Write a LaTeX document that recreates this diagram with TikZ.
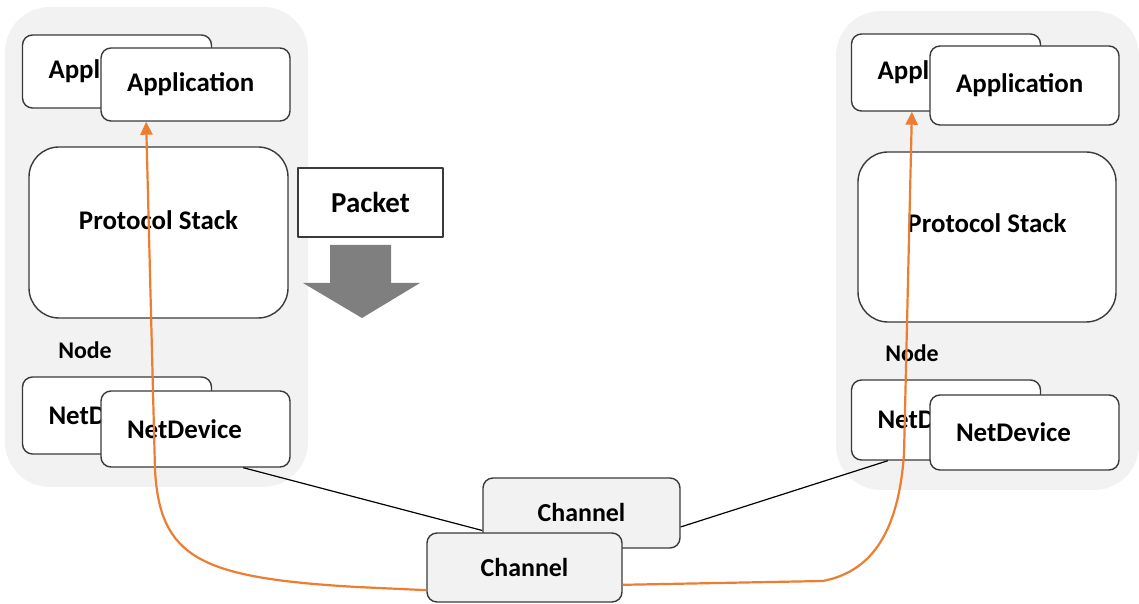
\documentclass[tikz,border=0pt]{standalone}
\usepackage{fontspec}
\setmainfont{Carlito}
\usepackage{tikz}
\usetikzlibrary{positioning,arrows.meta}

\definecolor{flowOrange}{HTML}{ED7D31}
\definecolor{nodeBg}{HTML}{F2F2F2}
\definecolor{boxLine}{HTML}{3A3A3A}
\definecolor{pktGray}{HTML}{7F7F7F}

\tikzset{
  box/.style={draw=boxLine,line width=1.4bp,rounded corners=10bp,fill=white,inner sep=0pt,
    font=\bfseries\fontsize{27}{31}\selectfont},
  layerbox/.style={box,text width=137bp,align=left,inner xsep=26bp},
  stackbox/.style={box,rounded corners=30bp},
  chanbox/.style={box,fill=nodeBg,font=\bfseries\fontsize{26}{30}\selectfont},
  nodelabel/.style={font=\bfseries\fontsize{24}{28}\selectfont},
  flow/.style={flowOrange,line width=2.2bp},
}

\begin{document}
\begin{tikzpicture}[>={Triangle[length=13bp,width=12bp]},line join=bevel,]
\useasboundingbox (0bp,0bp) rectangle (1139bp,604bp);
%% node backgrounds
\fill [nodeBg,rounded corners=45bp] (5bp,117bp) rectangle (308bp,597bp);
  \fill [nodeBg,rounded corners=45bp] (836bp,114bp) rectangle (1139bp,593bp);
%% left node
\node (app_back_l) at (117bp,532.5bp) [layerbox,minimum height=73bp] {Appl};
  \node (app_front_l) at (195.5bp,519.5bp) [layerbox,minimum height=73bp] {Application};
  \node (stack_l) at (158.5bp,371.5bp) [stackbox,minimum width=259bp,text height=83bp,text depth=88bp] {Protocol Stack};
  \node (label_l) at (85bp,254bp) [nodelabel] {Node};
  \node (dev_back_l) at (117bp,188.5bp) [layerbox,minimum height=77bp] {NetD};
  \node (dev_front_l) at (195.5bp,175bp) [layerbox,minimum height=76bp] {NetDevice};
%% packet going down
\node (packet) at (370.5bp,401.5bp) [box,rounded corners=0pt,minimum width=145bp,minimum height=69bp,
    font=\bfseries\fontsize{29}{33}\selectfont] {Packet};
  \fill [pktGray] (330bp,359bp) -- (391bp,359bp) -- (391bp,321bp) -- (420bp,321bp)
    -- (362bp,286bp) -- (303bp,321bp) -- (330bp,321bp) -- cycle;
%% right node
\node (app_back_r) at (946bp,531.5bp) [layerbox,minimum height=77bp] {Appl};
  \node (app_front_r) at (1024.5bp,518.5bp) [layerbox,minimum height=79bp] {Application};
  \node (stack_r) at (987bp,367bp) [stackbox,minimum width=258bp,text height=81bp,text depth=89bp] {Protocol Stack};
  \node (label_r) at (912bp,251bp) [nodelabel] {Node};
  \node (dev_back_r) at (946bp,184bp) [layerbox,minimum height=80bp] {NetD};
  \node (dev_front_r) at (1024.5bp,171.5bp) [layerbox,minimum height=75bp] {NetDevice};
%% channels
\node (chan_back) at (581.5bp,91bp) [chanbox,minimum width=197bp,minimum height=70bp] {Channel};
  \draw [black,line width=1.2bp] (dev_front_l.-39) -- (chan_back.190);
  \draw [black,line width=1.2bp] (chan_back.-8) -- (dev_back_r.215);
  \node (chan_front) at (524.5bp,36.5bp) [chanbox,minimum width=195bp,minimum height=69bp] {Channel};
%% data path
\draw [flow,->] (chan_front.193) -- (357bp,17bp) ..controls (200bp,26bp) and (160bp,46bp) .. (155bp,134bp) -- (app_front_l.217.5);
  \draw [flow,->] (chan_front.-10) -- (823bp,23bp) ..controls (868bp,32bp) and (898bp,66bp) .. (904bp,150bp) -- (app_back_r.229.4);
%
\end{tikzpicture}
\end{document}
